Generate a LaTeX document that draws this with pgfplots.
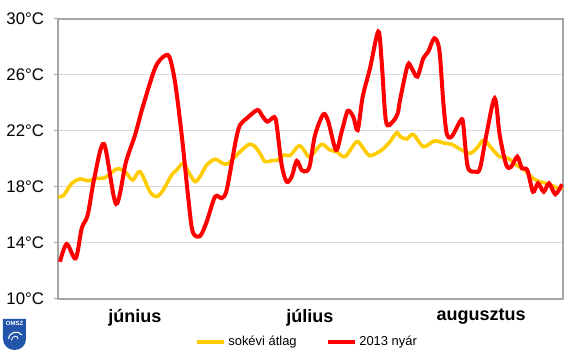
\documentclass[border=0pt]{standalone}
\usepackage{fontspec}
\setmainfont{Liberation Sans}
\usepackage{pgfplots}
\pgfplotsset{compat=1.18}
\definecolor{avgc}{RGB}{255,204,0}
\definecolor{redc}{RGB}{255,0,0}
\definecolor{gridc}{RGB}{217,217,217}
\definecolor{framec}{RGB}{166,166,166}
\definecolor{logoc}{RGB}{35,85,170}
\begin{document}
\begin{tikzpicture}
\useasboundingbox (-43.5pt,-40.5pt) rectangle (388.5pt,224.25pt);
\begin{axis}[
  at={(0pt,0pt)}, anchor=south west,
  scale only axis, width=378.75pt, height=210pt,
  xmin=0, xmax=92, ymin=10, ymax=30,
  ytick={10,14,18,22,26,30},
  yticklabels={10°C,14°C,18°C,22°C,26°C,30°C},
  xtick={14,45.9,77.1},
  xticklabels={június,július,augusztus},
  ymajorgrids, grid style={gridc, line width=0.75pt},
  axis line style={framec, line width=1pt},
  tick pos=left, tick align=outside,
  xtick style={draw=none},
  ytick style={framec, line width=0.75pt},
  major tick length=3pt,
  yticklabel style={font=\fontsize{12.6}{14}\selectfont, xshift=-4pt},
  xticklabel style={font=\bfseries\fontsize{13.5}{15}\selectfont, yshift=-1pt},
  legend style={at={(0.494,-0.153)}, anchor=center, draw=none, fill=none,
    font=\fontsize{9.7}{12}\selectfont, legend columns=2,
    /tikz/every even column/.append style={column sep=20pt}},
  legend image code/.code={\draw[#1] (0pt,0pt) -- (20pt,0pt);},
]
\addplot[avgc, line width=2.7pt, smooth] coordinates {
(0.05,17.31) (0.97,17.38) (2.5,18.26) (4.01,18.57) (5.52,18.45) (7.05,18.62)
(8.56,18.66) (10.69,19.29) (12.21,19.1) (13.61,18.5) (14.94,19.1) (16.76,17.66)
(17.98,17.31) (19.18,17.79) (20.71,18.86) (21.62,19.21) (22.83,19.69) (23.92,18.98)
(24.96,18.38) (25.87,18.74) (27.09,19.57) (28.6,19.98) (29.82,19.74) (30.92,19.65)
(32.85,20.4) (34.8,21.05) (35.89,20.88) (36.8,20.4) (37.71,19.81) (38.93,19.88)
(40.02,19.93) (41.23,20.29) (42.27,20.24) (43.91,20.95) (45.0,20.52) (45.6,20.17)
(46.4,20.35) (48.04,21.05) (49.55,20.64) (50.77,20.52) (52.29,20.17) (54.42,21.24)
(55.62,20.76) (56.84,20.24) (58.97,20.64) (60.49,21.24) (61.71,21.88) (62.31,21.6)
(63.53,21.43) (64.73,21.76) (66.55,20.88) (68.56,21.29) (70.5,21.12) (71.72,21.05)
(73.55,20.64) (75.06,20.4) (76.28,20.76) (77.6,21.35) (79.25,20.64) (80.47,20.17)
(81.98,20.05) (83.5,19.57) (85.02,19.21) (86.53,18.62) (87.75,18.38) (89.58,18.19)
(91.09,17.91) (92,17.91)
};
\addlegendentry{sokévi átlag}
\addplot[redc, line width=3pt, smooth] coordinates {
(0.36,12.66) (1.58,13.93) (3.22,12.9) (4.32,15.05) (5.41,16.0) (6.61,18.62)
(8.38,21.07) (10.57,16.79) (12.39,19.8) (14.03,21.7) (15.43,23.7) (17.67,26.48)
(19.18,27.3) (20.28,27.3) (21.32,25.5) (22.54,21.7) (23.74,17.19) (24.54,14.8)
(25.87,14.5) (27.09,15.52) (28.6,17.3) (29.82,17.2) (30.6,17.6) (31.33,19.0)
(32.43,21.4) (33.16,22.43) (34.38,22.9) (36.31,23.5) (37.11,23.14) (38.13,22.67)
(39.41,23.0) (39.84,22.43) (40.75,19.57) (41.66,18.38) (42.58,18.74) (43.49,19.86)
(44.4,19.2) (45.31,19.14) (45.91,19.6) (46.82,21.7) (48.33,23.19) (49.24,22.67)
(50.65,20.64) (51.68,21.95) (52.78,23.43) (53.8,23.0) (54.6,22.07) (55.51,24.45)
(56.84,26.48) (58.35,29.1) (58.97,26.95) (59.76,22.67) (60.98,22.67) (61.89,23.26)
(62.31,24.21) (63.71,26.71) (64.44,26.48) (65.46,25.88) (66.55,27.19) (67.46,27.67)
(68.56,28.62) (69.47,27.79) (70.19,24.09) (70.81,21.84) (71.72,21.6) (73.42,22.79)
(73.84,22.43) (74.64,19.45) (75.97,19.1) (76.88,19.33) (78.03,21.7) (79.56,24.33)
(80.47,21.7) (81.67,19.57) (82.58,19.45) (83.67,20.17) (84.53,19.33) (85.5,19.21)
(86.53,17.66) (87.44,18.26) (88.48,17.66) (89.45,18.26) (90.6,17.48) (91.82,18.19)
};
\addlegendentry{2013 nyár}
\end{axis}
% OMSZ logo
\fill[logoc] (-41.25pt,-15pt) -- (-24pt,-15pt) -- (-24pt,-30pt)
  .. controls (-24pt,-35pt) and (-28pt,-38.25pt) .. (-32.6pt,-38.25pt)
  .. controls (-37pt,-38.25pt) and (-41.25pt,-35pt) .. (-41.25pt,-30pt) -- cycle;
\node[white, font=\bfseries\fontsize{4.5}{5}\selectfont, inner sep=0pt] at (-32.6pt,-18.5pt) {OMSZ};
\draw[white, line width=0.8pt] (-37pt,-30pt) .. controls (-37pt,-25pt) and (-30pt,-23pt) .. (-27pt,-27pt);
\draw[white, line width=0.6pt] (-35pt,-31pt) .. controls (-34pt,-27pt) and (-30pt,-27pt) .. (-30pt,-30pt);
\end{tikzpicture}
\end{document}
